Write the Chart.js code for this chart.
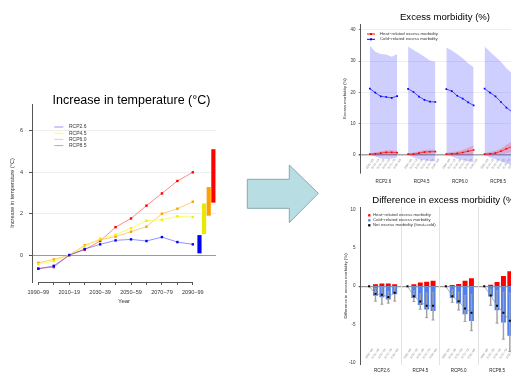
<!DOCTYPE html>
<html>
<head>
<meta charset="utf-8">
<script src="https://cdn.jsdelivr.net/npm/chart.js@4/dist/chart.umd.min.js"></script>
<style>
html, body { margin: 0; padding: 0; background: #fff; overflow: hidden; width: 511px; height: 376px; }
.box { position: absolute; }
</style>
</head>
<body>
<canvas id="temp" class="box" style="left:0;top:85px" width="263" height="221"></canvas>
<svg class="box" style="left:240px;top:150px" width="90" height="80">
  <polygon points="7.3,29.3 49.3,29.3 49.3,15 78.3,43.3 49.3,72.7 49.3,58.3 7.3,58.3" fill="#b8dde2" stroke="#83aab0" stroke-width="1"/>
</svg>
<canvas id="morb" class="box" style="left:322px;top:0" width="246" height="190"></canvas>
<canvas id="diff" class="box" style="left:322px;top:190px" width="246" height="190"></canvas>
<script>
// ---- left chart: temperature ----
var decades = [1990, 2000, 2010, 2020, 2030, 2040, 2050, 2060, 2070, 2080, 2090];
var rcpNames = ['RCP2.6', 'RCP4.5', 'RCP6.0', 'RCP8.5'];
var tempRcp26 = [-0.66, -0.52, 0, 0.29, 0.52, 0.71, 0.76, 0.68, 0.87, 0.63, 0.52];
var tempRcp45 = [-0.44, -0.29, 0, 0.42, 0.8, 0.98, 1.3, 1.66, 1.71, 1.87, 1.84];
var tempRcp60 = [-0.37, -0.21, 0, 0.48, 0.74, 0.89, 1.13, 1.37, 2.0, 2.24, 2.58];
var tempRcp85 = [-0.65, -0.58, 0, 0.26, 0.68, 1.35, 1.77, 2.39, 2.98, 3.58, 4.0];
var rangeYear = [2094.3, 2097.3, 2100.3, 2103.3];
var rangeLow = [0.1, 1.03, 1.92, 2.55];
var rangeHigh = [0.95, 2.48, 3.27, 5.1];

// ---- right top: excess morbidity ----
var periodsTop = ['1990\u221299', '2010\u221219', '2030\u221239', '2050\u221259', '2070\u221279', '2090\u221299'];
var coldMean = [
  [21.2, 19.9, 18.7, 18.5, 18.2, 18.8],
  [21.1, 20.1, 18.6, 17.6, 17.0, 16.9],
  [21.0, 20.4, 18.9, 18.0, 16.8, 15.8],
  [21.2, 19.9, 18.7, 16.9, 15.1, 13.8]
];
var coldHigh = [
  [34.9, 33.0, 32.3, 32.1, 31.4, 32.3],
  [34.7, 33.6, 32.5, 31.4, 30.2, 29.8],
  [34.4, 33.4, 32.3, 30.9, 29.3, 28.0],
  [34.7, 33.0, 31.4, 29.8, 27.7, 26.1]
];
var coldLow = [
  [0, -0.6, -1.2, -1.4, -1.3, -0.9],
  [0, -0.9, -1.5, -1.8, -2.0, -2.1],
  [0, -0.6, -1.3, -1.7, -2.1, -2.4],
  [0, -0.9, -1.5, -2.1, -2.8, -3.2]
];
var heatMean = [
  [0.2, 0.3, 0.5, 0.75, 0.75, 0.65],
  [0.2, 0.2, 0.5, 0.85, 0.95, 1.0],
  [0.2, 0.3, 0.4, 0.7, 1.1, 1.5],
  [0.2, 0.3, 0.5, 1.1, 1.9, 2.6]
];
var heatHigh = [
  [0.5, 0.8, 1.1, 1.4, 1.4, 1.3],
  [0.5, 0.7, 1.1, 1.5, 1.7, 1.7],
  [0.6, 0.9, 1.1, 1.5, 2.2, 3.1],
  [0.6, 0.9, 1.3, 2.0, 3.2, 4.2]
];
var heatLow = [
  [-0.2, -0.2, -0.2, 0, 0, -0.1],
  [-0.2, -0.2, -0.1, 0.1, 0.2, 0.3],
  [-0.1, -0.1, -0.1, 0, 0.1, 0.1],
  [-0.1, -0.1, 0, 0.2, 0.5, 0.8]
];

// ---- right bottom: difference in excess morbidity ----
var periodsDiff = ['1990\u221299', '2030\u221239', '2050\u221259', '2070\u221279', '2090\u221299'];
var heatDiff = [[0.2, 0.3, 0.3, 0.2], [0.2, 0.45, 0.55, 0.65], [0.1, 0.25, 0.65, 1.0], [0.15, 0.5, 1.3, 1.9]];
var coldDiff = [[-1.2, -1.4, -1.7, -1.0], [-1.5, -2.4, -3.0, -3.2], [-1.5, -2.2, -3.6, -4.5], [-1.3, -3.1, -4.7, -6.4]];
var netDiff = [[-1.0, -1.1, -1.4, -0.85], [-1.3, -2.0, -2.56, -2.56], [-1.3, -1.95, -2.9, -3.45], [-1.2, -2.56, -3.45, -4.5]];
var netLow = [[-1.95, -2.35, -2.2, -1.95], [-2.0, -3.0, -4.1, -4.4], [-2.1, -3.1, -4.6, -5.8], [-2.5, -4.8, -6.9, -8.5]];
var netHigh = [[-0.3, -0.2, -0.7, -0.1], [-0.6, -1.0, -0.9, -0.8], [-0.5, -0.8, -1.2, -1.1], [-0.4, -0.6, -0.8, -0.9]];

Chart.defaults.font.family = '"Liberation Sans", Arial, sans-serif';
Chart.defaults.color = '#333';
Chart.defaults.animation = false;
Chart.defaults.events = [];
Chart.defaults.plugins.legend.display = false;
Chart.defaults.plugins.tooltip.enabled = false;

var FONT = '"Liberation Sans", Arial, sans-serif';

// legend drawn inside the plot
var cornerLegend = {
  id: 'cornerLegend',
  afterDraw: function (chart, args, o) {
    var ctx = chart.ctx, area = chart.chartArea;
    ctx.save();
    ctx.font = o.size + 'px ' + FONT;
    ctx.textBaseline = 'middle';
    o.items.forEach(function (it, i) {
      var x = area.left + o.x, y = area.top + o.y + i * o.step;
      if (o.line) {
        ctx.strokeStyle = it.color; ctx.lineWidth = 1;
        ctx.beginPath(); ctx.moveTo(x, y); ctx.lineTo(x + o.len, y); ctx.stroke();
      }
      if (o.square) {
        ctx.fillStyle = it.color;
        ctx.fillRect(x + o.len / 2 - o.square / 2, y - o.square / 2, o.square, o.square);
      }
      ctx.fillStyle = '#333';
      ctx.fillText(it.text, x + o.gap, y);
    });
    ctx.restore();
  }
};

// slanted period labels under each group, inside the plot
var slantLabels = {
  id: 'slantLabels',
  afterDatasetsDraw: function (chart, args, o) {
    var ctx = chart.ctx, xs = chart.scales.x, ys = chart.scales.y;
    ctx.save();
    ctx.font = o.size + 'px ' + FONT;
    ctx.fillStyle = '#8a8a8a';
    ctx.textAlign = 'center';
    ctx.textBaseline = 'middle';
    for (var g = 0; g < o.groups; g++) {
      o.labels.forEach(function (lab, i) {
        ctx.save();
        ctx.translate(xs.getPixelForValue(g * o.pitch + i), ys.getPixelForValue(o.at));
        ctx.rotate(-55 * Math.PI / 180);
        ctx.fillText(lab, 0, 0);
        ctx.restore();
      });
    }
    ctx.restore();
  }
};

// thin vertical lines between scenario groups
var groupLines = {
  id: 'groupLines',
  beforeDatasetsDraw: function (chart, args, o) {
    var ctx = chart.ctx, area = chart.chartArea, xs = chart.scales.x;
    ctx.save();
    ctx.strokeStyle = '#e2e2e2'; ctx.lineWidth = 1;
    for (var g = 1; g <= o.groups; g++) {
      var px = Math.round(xs.getPixelForValue(g * o.pitch - 1)) + 0.5;
      ctx.beginPath(); ctx.moveTo(px, area.top); ctx.lineTo(px, area.bottom); ctx.stroke();
    }
    ctx.restore();
  }
};

// R style x axis line from first to last decade
var shortAxis = {
  id: 'shortAxis',
  afterDraw: function (chart, args, o) {
    var ctx = chart.ctx, xs = chart.scales.x, y = chart.chartArea.bottom + 0.5;
    ctx.save();
    ctx.strokeStyle = '#555'; ctx.lineWidth = 1;
    ctx.beginPath(); ctx.moveTo(xs.getPixelForValue(o.from), y); ctx.lineTo(xs.getPixelForValue(o.to), y); ctx.stroke();
    ctx.restore();
  }
};

// ================= left chart =================
var tempSeries = [tempRcp26, tempRcp45, tempRcp60, tempRcp85];
var tempLine = ['rgba(40,40,255,0.5)', 'rgba(250,250,60,0.75)', 'rgba(255,170,40,0.6)', 'rgba(255,40,40,0.55)'];
var tempPoint = ['#0000ff', '#f0f000', '#ffa000', '#ff0000'];

var tempSets = tempSeries.map(function (s, k) {
  return {
    label: rcpNames[k],
    data: decades.map(function (x, i) { return { x: x, y: s[i] }; }),
    borderColor: tempLine[k],
    borderWidth: 1,
    pointStyle: 'rect',
    pointRadius: 1.7,
    pointBackgroundColor: tempPoint[k],
    pointBorderWidth: 0
  };
});
tempSets.push({
  type: 'bar',
  label: 'range',
  data: rangeYear.map(function (x, i) { return { x: x, y: [rangeLow[i], rangeHigh[i]] }; }),
  backgroundColor: ['#0000ff', '#e8e800', '#ffa000', '#ff0000'],
  barThickness: 3.5,
  grouped: false
});

new Chart(document.getElementById('temp'), {
  type: 'line',
  data: { datasets: tempSets },
  plugins: [cornerLegend, shortAxis],
  options: {
    responsive: false,
    layout: { padding: 0 },
    plugins: {
      title: {
        display: true,
        text: 'Increase in temperature (\u00b0C)',
        color: '#000',
        font: { size: 12.5, weight: 'normal' },
        padding: { top: 8.5, bottom: -4.5 }
      },
      cornerLegend: {
        x: 22.3, y: 23, step: 6.2, len: 9, gap: 14.7, size: 5, line: true,
        items: rcpNames.map(function (n, k) { return { text: n, color: tempLine[k] }; })
      },
      shortAxis: { from: decades[0], to: decades[decades.length - 1] }
    },
    scales: {
      x: {
        type: 'linear',
        min: 1985.9,
        max: 2105,
        offset: false,
        afterBuildTicks: function (s) { s.ticks = decades.map(function (v) { return { value: v }; }); },
        afterFit: function (s) { s.height = 24; },
        ticks: {
          autoSkip: false, maxRotation: 0, padding: 3.7,
          font: { size: 5.5 }, color: '#333',
          callback: function (v, i) { return i % 2 === 0 ? v + '\u2212' + String(v + 9).slice(2) : ''; }
        },
        grid: { offset: false, drawOnChartArea: false, drawTicks: true, tickLength: 3, color: '#555' },
        border: { display: false },
        title: { display: true, text: 'Year', font: { size: 6 }, color: '#333', padding: { top: 0, bottom: 1.4 } }
      },
      y: {
        min: -1.3,
        max: 7.3,
        afterFit: function (s) { s.width = 32; },
        ticks: { stepSize: 2, includeBounds: false, padding: 6, font: { size: 5.5 }, color: '#333' },
        grid: {
          color: function (c) { return c.tick.value === 0 ? '#9a9a9a' : '#eeeeee'; },
          tickColor: '#555', tickLength: 3
        },
        border: { display: true, color: '#555' },
        title: { display: true, text: 'Increase in temperature (\u00b0C)', font: { size: 5.5 }, color: '#333', padding: { top: 8.7, bottom: 0 } }
      },
      pad: {
        axis: 'y', position: 'right', display: true,
        afterFit: function (s) { s.width = 47; },
        ticks: { display: false }, grid: { display: false }, border: { display: false }
      }
    }
  }
});

// ================= right top chart =================
var morbLines = [];
var morbBands = [];
rcpNames.forEach(function (name, g) {
  function pts(arr) { return arr.map(function (v, i) { return { x: g * 7 + i, y: v }; }); }
  morbLines.push({
    label: 'Heat ' + name, data: pts(heatMean[g]),
    borderColor: '#ff2020', borderWidth: 0.8, pointStyle: 'rect', pointRadius: 1.2,
    pointBackgroundColor: '#ff0000', pointBorderWidth: 0
  });
  morbLines.push({
    label: 'Cold ' + name, data: pts(coldMean[g]),
    borderColor: '#2a2aff', borderWidth: 0.8, pointStyle: 'rect', pointRadius: 1.2,
    pointBackgroundColor: '#0000ff', pointBorderWidth: 0
  });
  morbBands.push({ data: pts(heatHigh[g]), fill: '+1', backgroundColor: 'rgba(255,0,0,0.2)', borderWidth: 0, pointRadius: 0 });
  morbBands.push({ data: pts(heatLow[g]), fill: false, borderWidth: 0, pointRadius: 0 });
  morbBands.push({ data: pts(coldHigh[g]), fill: '+1', backgroundColor: 'rgba(0,0,255,0.19)', borderWidth: 0, pointRadius: 0 });
  morbBands.push({ data: pts(coldLow[g]), fill: false, borderWidth: 0, pointRadius: 0 });
});

new Chart(document.getElementById('morb'), {
  type: 'line',
  data: { datasets: morbLines.concat(morbBands) },
  plugins: [cornerLegend, slantLabels],
  options: {
    responsive: false,
    layout: { padding: 0 },
    plugins: {
      title: {
        display: true, text: 'Excess morbidity (%)', color: '#000',
        font: { size: 9.6, weight: 'normal' }, padding: { top: 11.25, bottom: 1.25 }
      },
      cornerLegend: {
        x: 6.3, y: 10, step: 5.3, len: 8, gap: 13, size: 4.3, line: true, square: 2,
        items: [{ text: 'Heat\u2212related excess morbidity', color: '#ff0000' }, { text: 'Cold\u2212related excess morbidity', color: '#0000ff' }]
      },
      slantLabels: { labels: periodsTop, groups: rcpNames.length, pitch: 7, at: -3.0, size: 3 }
    },
    scales: {
      x: {
        type: 'linear', min: -1.67, max: 35.54, offset: false,
        afterBuildTicks: function (s) { s.ticks = rcpNames.map(function (n, g) { return { value: g * 7 + 2.5 }; }); },
        afterFit: function (s) { s.height = 17; },
        ticks: {
          autoSkip: false, maxRotation: 0, padding: 6.3, font: { size: 4.5 }, color: '#222',
          callback: function (v, i) { return rcpNames[i]; }
        },
        grid: { display: false, drawTicks: false },
        border: { display: false }
      },
      y: {
        min: -5.87, max: 41.9,
        afterFit: function (s) { s.width = 38.7; },
        ticks: { stepSize: 10, includeBounds: false, padding: 3.2, font: { size: 4.5 }, color: '#333' },
        grid: {
          color: function (c) { return c.tick.value === 0 ? '#a5a5a5' : '#e8e8e8'; },
          lineWidth: function (c) { return c.tick.value === 0 ? 1.6 : 0.7; },
          tickColor: '#555', tickLength: 2
        },
        border: { display: true, color: '#555' },
        title: { display: true, text: 'Excess morbidity (%)', font: { size: 4.3 }, color: '#333', padding: { top: 20.4, bottom: 0 } }
      }
    }
  }
});

// ================= right bottom chart =================
var diffNet = [], capPts = [], whisk = [], heatBars = [], coldBars = [];
rcpNames.forEach(function (name, g) {
  var base = g * 6;
  diffNet.push({
    label: 'Net ' + name,
    data: [{ x: base, y: 0 }].concat(netDiff[g].map(function (v, i) { return { x: base + i + 1, y: v }; })),
    borderColor: '#9a9a9a', borderWidth: 0.8, pointStyle: 'rect', pointRadius: 1.4,
    pointBackgroundColor: '#000', pointBorderWidth: 0
  });
  netDiff[g].forEach(function (v, i) {
    var x = base + i + 1;
    capPts.push({ x: x, y: netLow[g][i] }, { x: x, y: netHigh[g][i] });
    whisk.push({ x: x, y: [netLow[g][i], netHigh[g][i]] });
    heatBars.push({ x: x, y: heatDiff[g][i] });
    coldBars.push({ x: x, y: coldDiff[g][i] });
  });
});

var diffSets = diffNet.concat([
  { type: 'scatter', data: capPts, pointStyle: 'line', pointRadius: 1.6, pointBorderColor: '#9a9a9a', pointBorderWidth: 0.8 },
  { type: 'bar', data: whisk, backgroundColor: '#a0a0a0', barThickness: 0.8, grouped: false },
  { type: 'bar', data: heatBars, backgroundColor: '#ff0000', barThickness: 4.3, grouped: false },
  { type: 'bar', data: coldBars, backgroundColor: '#4f7ff0', barThickness: 4.3, grouped: false }
]);

new Chart(document.getElementById('diff'), {
  type: 'line',
  data: { datasets: diffSets },
  plugins: [cornerLegend, slantLabels, groupLines],
  options: {
    responsive: false,
    layout: { padding: 0 },
    plugins: {
      title: {
        display: true, text: 'Difference in excess morbidity (%)', color: '#000',
        font: { size: 9.6, weight: 'normal' }, padding: { top: 4.24, bottom: 1.24 }
      },
      cornerLegend: {
        x: 8.6, y: 8.3, step: 5, len: 0, gap: 3.7, size: 4.3, square: 2.3,
        items: [
          { text: 'Heat\u2212related excess morbidity', color: '#ff0000' },
          { text: 'Cold\u2212related excess morbidity', color: '#4f7ff0' },
          { text: 'Net excess morbidity (heat+cold)', color: '#000' }
        ]
      },
      slantLabels: { labels: periodsDiff, groups: rcpNames.length, pitch: 6, at: -8.8, size: 3 },
      groupLines: { groups: rcpNames.length, pitch: 6 }
    },
    scales: {
      x: {
        type: 'linear', min: -1.31, max: 30.34, offset: false,
        afterBuildTicks: function (s) { s.ticks = rcpNames.map(function (n, g) { return { value: g * 6 + 2 }; }); },
        afterFit: function (s) { s.height = 15; },
        ticks: {
          autoSkip: false, maxRotation: 0, padding: 3.3, font: { size: 4.5 }, color: '#222',
          callback: function (v, i) { return rcpNames[i]; }
        },
        grid: { display: false, drawTicks: false, offset: false },
        border: { display: false }
      },
      y: {
        min: -10.26, max: 10.31,
        afterFit: function (s) { s.width = 38.7; },
        ticks: { stepSize: 5, includeBounds: false, padding: 3.2, font: { size: 4.5 }, color: '#333' },
        grid: {
          color: function (c) { return c.tick.value === 0 ? '#9a9a9a' : 'rgba(0,0,0,0)'; },
          lineWidth: function (c) { return c.tick.value === 0 ? 1.2 : 0; },
          tickColor: '#555', tickLength: 2
        },
        border: { display: true, color: '#555' },
        title: { display: true, text: 'Difference in excess morbidity (%)', font: { size: 4.3 }, color: '#333', padding: { top: 21.4, bottom: 0 } }
      }
    }
  }
});
</script>
</body>
</html>
